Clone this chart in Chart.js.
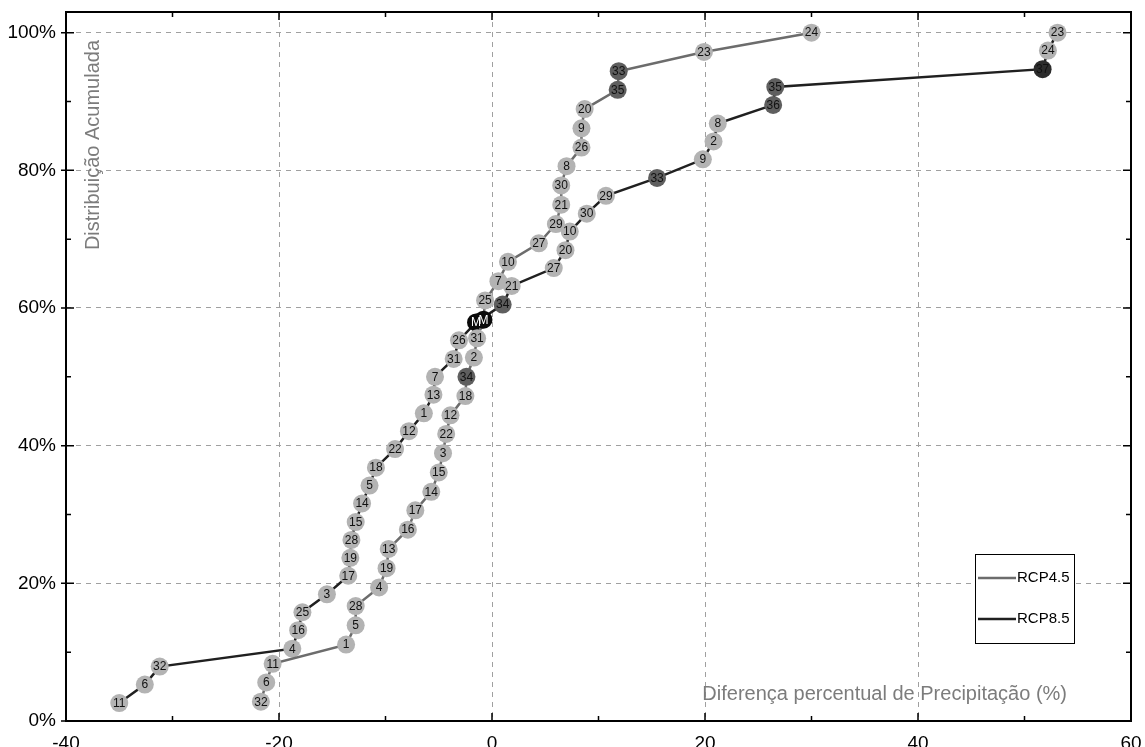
<!DOCTYPE html>
<html>
<head>
<meta charset="utf-8">
<script src="https://cdn.jsdelivr.net/npm/chart.js"></script>
<style>
  html, body { margin: 0; padding: 0; background: #fff; }
</style>
</head>
<body>
<canvas id="grafico" width="1145" height="747"></canvas>
<script>
// RCP4.5 - modelos na ordem da distribuição acumulada (M = média)
const modelos45 = ["32","6","11","1","5","28","4","19","13","16","17","14","15","3","22","12","18","34","2","31","M","25","7","10","27","29","21","30","8","26","9","20","35","33","23","24"];
const dif45 = [-21.7,-21.2,-20.6,-13.7,-12.8,-12.8,-10.6,-9.9,-9.7,-7.9,-7.2,-5.7,-5.0,-4.6,-4.3,-3.9,-2.5,-2.4,-1.7,-1.4,-0.8,-0.65,0.6,1.5,4.4,6.0,6.5,6.5,7.0,8.4,8.4,8.7,11.8,11.9,19.9,30.0];
const acum45 = [2.8,5.6,8.3,11.1,13.9,16.7,19.4,22.2,25.0,27.8,30.6,33.3,36.1,38.9,41.7,44.4,47.2,50.0,52.8,55.6,58.3,61.1,63.9,66.7,69.4,72.2,75.0,77.8,80.6,83.3,86.1,88.9,91.7,94.4,97.2,100];

// RCP8.5
const modelos85 = ["11","6","32","4","16","25","3","17","19","28","15","14","5","18","22","12","1","13","7","31","26","M","34","21","27","20","10","30","29","33","9","2","8","36","35","37","24","23"];
const dif85 = [-35.0,-32.6,-31.2,-18.75,-18.2,-17.8,-15.5,-13.5,-13.3,-13.2,-12.8,-12.2,-11.5,-10.9,-9.1,-7.8,-6.4,-5.5,-5.35,-3.6,-3.1,-1.5,1.0,1.85,5.8,6.9,7.3,8.9,10.7,15.5,19.8,20.8,21.2,26.4,26.6,51.7,52.2,53.1];
const acum85 = [2.6,5.3,7.9,10.5,13.2,15.8,18.4,21.1,23.7,26.3,28.9,31.6,34.2,36.8,39.5,42.1,44.7,47.4,50.0,52.6,55.3,57.9,60.5,63.2,65.8,68.4,71.1,73.7,76.3,78.9,81.6,84.2,86.8,89.5,92.1,94.7,97.4,100];

const ticksX = [-40,-30,-20,-10,0,10,20,30,40,50,60];
const ticksY = [0,10,20,30,40,50,60,70,80,90,100];

const tituloX = "Diferença percentual de Precipitação (%)";
const tituloY = "Distribuição Acumulada";

const FONTE = "'Liberation Sans', Arial, Helvetica, sans-serif";
Chart.defaults.font.family = FONTE;

function corPonto(rot) {
  if (rot === "M") return "#0a0a0a";
  if (rot === "37") return "#2c2c2c";
  if (["33","34","35","36"].includes(rot)) return "#5f5f5f";
  return "#b3b3b3";
}

const rotulos = [modelos45, modelos85];

const molduraPlugin = {
  id: "moldura",
  beforeDatasetsDraw(chart) {
    const { ctx, chartArea: a, scales } = chart;
    ctx.save();
    // titulos dos eixos (dentro da area)
    ctx.fillStyle = "#7c7c7c";
    ctx.font = "20px " + FONTE;
    ctx.textBaseline = "middle";
    ctx.textAlign = "right";
    ctx.fillText(tituloX, a.right - 64, a.bottom - 27);
    ctx.translate(a.left + 27, a.top + 28);
    ctx.rotate(-Math.PI / 2);
    ctx.textAlign = "right";
    ctx.fillText(tituloY, 0, 0);
    ctx.restore();

    ctx.save();
    ctx.strokeStyle = "#000";
    ctx.lineWidth = 1.5;
    ctx.beginPath();
    ticksX.forEach(v => {
      const px = scales.x.getPixelForValue(v);
      const len = v % 20 === 0 ? 8 : 5;
      ctx.moveTo(px, a.bottom); ctx.lineTo(px, a.bottom - len);
      ctx.moveTo(px, a.top); ctx.lineTo(px, a.top + len);
    });
    ticksY.forEach(v => {
      const py = scales.y.getPixelForValue(v);
      const len = v % 20 === 0 ? 8 : 5;
      ctx.moveTo(a.left - (v % 20 === 0 ? 5 : 0), py); ctx.lineTo(a.left + len, py);
      ctx.moveTo(a.right, py); ctx.lineTo(a.right - len, py);
    });
    ctx.stroke();
    ctx.lineWidth = 2;
    ctx.strokeRect(a.left, a.top, a.right - a.left, a.bottom - a.top);
    ctx.restore();
  },
  afterDatasetsDraw(chart) {
    const { ctx, chartArea: a } = chart;
    ctx.save();
    ctx.font = "12px " + FONTE;
    ctx.textAlign = "center";
    ctx.textBaseline = "middle";
    chart.data.datasets.forEach((ds, di) => {
      const meta = chart.getDatasetMeta(di);
      meta.data.forEach((p, i) => {
        const r = rotulos[di][i];
        ctx.fillStyle = r === "M" ? "#fff" : "#111";
        ctx.fillText(r, p.x, p.y + 0.5);
      });
    });

    // legenda
    const bx = a.right - 156, by = a.bottom - 167, bw = 99, bh = 89;
    ctx.fillStyle = "#fff";
    ctx.fillRect(bx, by, bw, bh);
    ctx.strokeStyle = "#000";
    ctx.lineWidth = 1;
    ctx.strokeRect(bx + 0.5, by + 0.5, bw, bh);
    ctx.font = "15px " + FONTE;
    ctx.textAlign = "left";
    chart.data.datasets.forEach((ds, di) => {
      const ly = by + 24 + di * 41;
      ctx.strokeStyle = ds.borderColor;
      ctx.lineWidth = 2.5;
      ctx.beginPath();
      ctx.moveTo(bx + 3, ly); ctx.lineTo(bx + 41, ly);
      ctx.stroke();
      ctx.fillStyle = "#000";
      ctx.fillText(ds.label, bx + 42, ly);
    });
    ctx.restore();
  }
};

new Chart(document.getElementById("grafico").getContext("2d"), {
  type: "scatter",
  data: {
    datasets: [
      {
        label: "RCP4.5",
        data: dif45.map((x, i) => ({ x: x, y: acum45[i] })),
        showLine: true,
        borderColor: "#6c6c6c",
        borderWidth: 2.5,
        pointRadius: 9,
        pointHoverRadius: 9,
        pointBorderWidth: 0,
        pointBackgroundColor: modelos45.map(corPonto),
      },
      {
        label: "RCP8.5",
        data: dif85.map((x, i) => ({ x: x, y: acum85[i] })),
        showLine: true,
        borderColor: "#202020",
        borderWidth: 2.5,
        pointRadius: 9,
        pointHoverRadius: 9,
        pointBorderWidth: 0,
        pointBackgroundColor: modelos85.map(corPonto),
      },
    ],
  },
  options: {
    responsive: false,
    animation: false,
    layout: { padding: { left: 0, right: 14, top: 12, bottom: 0 } },
    plugins: {
      legend: { display: false },
      tooltip: { enabled: false },
    },
    scales: {
      x: {
        type: "linear",
        min: -40,
        max: 60,
        afterBuildTicks: s => { s.ticks = ticksX.map(v => ({ value: v })); },
        afterFit: s => { s.height = 26; s.paddingLeft = 0; s.paddingRight = 0; },
        ticks: {
          callback: v => (v % 20 === 0 ? v : ""),
          color: "#000",
          font: { size: 19 },
          padding: 11,
          maxRotation: 0,
          autoSkip: false,
        },
        grid: {
          color: c => (c.tick && c.tick.value % 20 === 0 && c.tick.value > -40 && c.tick.value < 60 ? "#a0a0a0" : "rgba(0,0,0,0)"),
          lineWidth: 1,
          drawTicks: false,
        },
        border: { display: false, dash: [5, 5] },
      },
      y: {
        min: 0,
        max: 103,
        afterBuildTicks: s => { s.ticks = ticksY.map(v => ({ value: v })); },
        afterFit: s => { s.width = 66; s.paddingTop = 0; s.paddingBottom = 0; },
        ticks: {
          callback: v => (v % 20 === 0 ? v + "%" : ""),
          color: "#000",
          font: { size: 19 },
          padding: 10,
          autoSkip: false,
        },
        grid: {
          color: c => (c.tick && c.tick.value % 20 === 0 && c.tick.value > 0 ? "#a0a0a0" : "rgba(0,0,0,0)"),
          lineWidth: 1,
          drawTicks: false,
        },
        border: { display: false, dash: [5, 5] },
      },
    },
  },
  plugins: [molduraPlugin],
});
</script>
</body>
</html>
